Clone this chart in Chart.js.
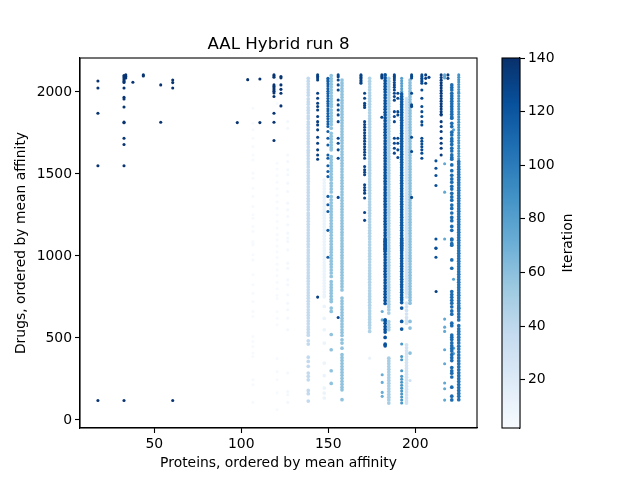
<!DOCTYPE html>
<html><head><meta charset="utf-8">
<style>html,body{margin:0;padding:0;background:#fff}canvas{position:absolute;left:0;top:0}</style>
<script src="https://cdn.jsdelivr.net/npm/chart.js@4"></script></head><body>
<canvas id="main" width="640" height="480"></canvas>
<canvas id="bar" width="640" height="480"></canvas>
<script>
const xTicks=[50,100,150,200];
const yTicks=[0,500,1000,1500,2000];
const barTicks=[20,40,60,80,100,120,140];
const blues=['#f7fbff','#deebf7','#c6dbef','#9ecae1','#6baed6','#4292c6','#2171b5','#08519c','#08306b'];

const y017=[2067,2024,1870,1550,119];
const y032=[2100,2092,2085,2075,2066,2058,2024,1967,1957,1908,1816,1812,1718,1680,1550,119];
const y033=[2104,2094,2085];
const y037=[2059];
const y043=[2104,2098];
const y053=[2043,1815];
const y060=[2073,2057,2024,119];
const y097=[1813];
const y103=[2075];
const y110=[2079,1813];
const y118=[2104,2098,2090,2043,2034,2024,2014,2004,1994,1972,1870,1815,1704];
const y122=[2094,2086,2043,2016,1992,1915];
const y106=[1900,1809,1769,1718,1667,1616,1586,1505,1474,1413,1363,1302,1251,1230,1180,1150,1088,1068,1078,1067,1007,976,885,824,773,722,662,631,509,479,448,408,387,245,215,107];
const y120=[2073,2040,2010,1930,1565,1530,1490,1450,1410,1370,1330,1290,1250,1210,1170,1130,1098,1060,1025,990,950,915,880,840,800,760,740,660,620,580,375,295,245,165,62];
const y126=[1819,1779,1616,1576,1525,1495,1444,1393,1322,1281,1241,1190,1139,1109,1088,1037,956,925,854,824,763,712,672,621,550,286,174,154,107];
const y147=[1464,1446,1428,1410,1392,1374,1356,1338,1320,1302,1284,1266,1248,1230,1212,1194,1176,1158,1140,1122,1104,1086,1068,1050,1032,1014,996,978,960,942,924,906,888,870,852,834,816,798,780,762,751,692,620,550,469,347,270,195,164,134];
const y138=[2083,2066,2048,2031,2014,1996,1980,1958,1941,1925,1905,1889,1872,1853,1838,1818,1803,1785,1769,1750,1733,1716,1698,1682,1664,1645,1630,1612,1594,1576,1560,1543,1524,1509,1490,1473,1455,1438,1420,1403,1387,1368,1350,1334,1316,1298,1281,1262,1247,1229,1211,1193,1176,1159,1141,1124,1107,1090,1072,1055,1036,1020,1002,985,968,950,933,916,898,880,864,846,829,811,794,776,759,742,724,707,690,672,655,638,621,603,586,568,552,534,517,483,463,383,357,327,286,266,245,180,160,115];
const y151=[2100,2082,2065,2047,2030,2012,1995,1977,1960,1942,1925,1911,1890,1872,1855,1837,1820,1802,1779,1748,1730,1712,1694,1676,1660,1647,1606,1588,1570,1552,1534,1516,1498,1480,1464,1444,1426,1408,1390,1363,1342,1324,1306,1288,1270,1252,1234,1216,1198,1180,1162,1144,1126,1108,1090,1072,1054,1040,1022,1004,986,968,950,932,914,896,875,844,826,808,790,772,754,736,722,682,662,521,428,300,223];
const y157=[2073,2055,2038,2020,2003,1985,1968,1950,1933,1915,1898,1880,1863,1845,1828,1810,1793,1775,1758,1740,1723,1705,1688,1670,1653,1635,1618,1600,1583,1565,1548,1530,1513,1495,1478,1460,1443,1425,1408,1390,1373,1355,1338,1320,1303,1285,1268,1250,1233,1215,1198,1180,1163,1145,1128,1110,1093,1075,1058,1040,1023,1005,988,970,953,935,918,900,883,865,848,830,813,793,743,725,708,690,673,655,638,620,603,585,568,550,533,515,489,469,438,398,380,362,344,326,308,290,272,254,236,218,200,184,124];
const y173=[2083,2065,2048,2030,2013,1995,1978,1960,1943,1925,1908,1890,1873,1855,1838,1820,1803,1785,1768,1750,1733,1715,1698,1680,1663,1645,1628,1610,1593,1575,1558,1540,1523,1505,1488,1470,1453,1435,1418,1400,1383,1365,1348,1330,1313,1295,1278,1260,1243,1225,1208,1190,1173,1155,1138,1120,1103,1085,1068,1050,1033,1015,998,980,963,945,928,910,893,875,858,840,823,805,788,770,753,735,718,700,683,665,648,630,613,595,578,560,540];
const y173b=[377];
const y184=[2083,2066,2049,2032,2015,1998,1981,1964,1947,1930,1913,1896,1879,1862,1845,1828,1811,1794,1777,1760,1743,1726,1709,1692,1675,1658,1641,1624,1607,1590,1573,1556,1539,1522,1505,1488,1471,1454,1437,1420,1403,1386,1369,1352,1335,1318,1301,1284,1267,1250,1233,1216,1199,1182,1165,1148,1131,1114,1097,1080,1063,1046,1029,1012,995,978,961,944,927,910,893,876,859,842,825,808,791,774,757,740,723,706,689,672,652,600,582,565,550,377,360,343,326,309,292,275,258,241,224,207,190,173,156,139,122,103];
const y195=[1960,1942,1924,1906,1888,1870,1852,1834,1816,1798,1780,1762,1744,1726,1708,1690,1672,1654,1636,1618,1600,1582,1564,1546,1528,1510,1492,1474,1456,1438,1420,1402,1384,1366,1348,1330,1312,1294,1276,1258,1240,1222,1204,1186,1168,1150,1132,1114,1096,1078,1060,1042,1024,1006,988,970,952,934,916,898,880,862,844,826,808,790,772,750,712,690,668,646,624,606,590,458,440,422,404,386,368,350,332,314,296,278,260,242,224,206,188,170,152,134,116,103];
const y197=[2073,2056,2039,2022,2005,1988,1971,1954,1937,1920,1903,1886,1869,1852,1835,1818,1801,1784,1767,1750,1733,1716,1699,1682,1665,1648,1631,1614,1597,1580,1563,1546,1529,1512,1495,1478,1461,1444,1427,1410,1393,1376,1359,1342,1325,1308,1291,1274,1257,1240,1223,1206,1189,1172,1155,1138,1121,1104,1087,1070,1053,1036,1019,1002,985,968,951,934,917,900,883,866,849,832,815,798,781,764,747,730,712,601,560,408];
const y197b=[241];
const y143=[2104,2094,2085,2073,1992,1962,1931,1911,1890,1850,1819,1799,1769,1724,1687,1647,1616,1590,749];
const y149=[2083,2073,2063,2050,2036,2020,2004,1990,1975,1960,1944,1930,1915,1898,1884,1868,1852,1836,1820,1805,1789,1759,1718,1677,1616,1596,1550,1515,1484,1363,1312,1271,1156,992];
const y155=[2104,2092,2073,2043,2012,1951,1921,1890,1860,1819,1718,1687,1647,1596,1357,625];
const y168=[2104,2098,2088,2080,2070,2061,2053];
const y170=[1992,1962,1931,1918,1905,1819,1802,1785,1768,1751,1734,1717,1700,1683,1666,1649,1632,1615,1596,1545,1525,1510,1495,1434,1417,1400,1383,1353,1265,1217];
const y180=[2104,2094,2085,1846];
const y182=[2104,2086,2069,2051,2034,2016,1999,1981,1964,1946,1929,1911,1894,1876,1859,1841,1824,1806,1789,1771,1754,1736,1719,1701,1684,1666,1649,1631,1614,1596,1579,1561,1544,1526,1509,1491,1474,1456,1439,1421,1404,1386,1369,1351,1334,1316,1299,1281,1264,1246,1229,1211,1194,1176,1159,1141,1124,1106,1089,1071,1054,1040,1098,1081,1063,1046,1028,1011,993,976,958,941,923,906,888,871,853,836,818,801,783,766,748,729,710,611,605,589,570,552,536,503,462,452];
const y181=[661,610,276,229,168,144];
const y188=[2104,2094,2085,2073,2058,2043,2028,2012,1992,1972,1950,1880,1850,1819,1718,1687,1657,1627];
const y190=[1992,1962,1880,1860,1718,1687,1647,1600];
const y192top=[2083,2068,2052,2036,2020,2004];
const y192=[1988,1972,1956,1940,1924,1908,1892,1876,1860,1844,1828,1812,1796,1780,1764,1748,1732,1716,1700,1684,1668,1652,1636,1620,1604,1588,1572,1556,1540,1524,1508,1492,1476,1460,1444,1428,1412,1396,1380,1364,1348,1332,1316,1300,1284,1268,1252,1236,1220,1204,1188,1172,1156,1140,1124,1108,1092,1076,1060,1044,1098,1082,1066,1050,1034,1018,1002,986,970,954,938,922,906,890,874,858,842,826,810,794,778,762,746,733,716,682,601,554];
const y192b=[463,387,367,300,266,248,230,212,194,176,158,140,122,103];
const y197c=[2104,2094,2085,1992,1921,1911,1724,1637,1357];
const y203=[2104,2094,2084,2073,2063,2053,2012,1962,1911,1880,1850,1819,1799,1718,1700,1683,1666,1648,1627,1596];
const y206=[2104,2083,2053];
const y207=[2089];
const y211=[1580,1535,1491,1430,1103,1048,1047,992];
const y212=[783];
const y214=[2104,2088,2072,2056,2040,2024,2008,1992,1976,1960,1944,1928,1912,1896,1880,1864,1860,1819,1789,1759,1718,1687,1657,1616];
const y216=[2104,2094,2085,1562,1389,1103,615,566,540,428,343,225,190,121];
const y218=[2104,2083];
const y221=[2043,2027,2012,1992,1976,1960,1944,1928,1912,1896,1880,1864,1848,1840,1809,1789,1755,1738,1715,1700,1680,1657,1640,1616,1600,1590,1555,1520,1492,1470,1450,1425,1408,1382,1360,1340,1310,1290,1262,1235,1215,1180,1156,1103,1075,1098,1066,976,925,783,765,748,730,712,690,665,645,590,575,518,505,490,470,452,436,420,398,380,362,320,300,285,262,200,145,122];
const y222=[1769,858,438,405];
const y225a=[2104,2090,2075,2060,2045,2030,2015,2000,1992,1976,1960,1944,1928,1912,1896,1880,1864,1848,1832,1816,1800,1784,1768,1752,1736,1720,1704,1688,1672,1656,1640,1624,1608,1592];
const y225=[1576,1560,1544,1528,1512,1496,1480,1464,1448,1432,1416,1400,1384,1368,1352,1336,1320,1304,1288,1272,1256,1240,1224,1208,1192,1176,1160,1144,1128,1112,1096,1080,1064,1048,1032,1016,1000,984,968,952,936,920,904,888,872,856,840,824,808,792,776,760,744,728,712,696,680,682,664,646,628,610,575,556,540,523,505,488,470,450,432,414,396,378,360,342,324,306,288,270,252,234,216,198,180,162,144,124];

const columns=[
[106.7,3,y106],[120.6,3,y120],[126.7,5,y126],[147.7,10,y147],[173.8,12,y173b],[197,30,y197b],[195,28,y195],
[138.5,38,y138],[173.8,46,y173],[184.8,50,y184],[151.7,58,y151],[157.9,58,y157],[197,60,y197],
[181,72,y181],[216.9,75,y216],[222,78,y222],[192.2,80,y192top],[192.2,85,y192b],[225,88,y225a],[225,105,y225],[221,108,y221],
[149.8,116,y149],[192.2,118,y192],[182.7,122,y182],[211.9,124,y211],[203.8,126,y203],[188,128,y188],[190,128,y190],[155.7,128,y155],[197.9,128,y197c],[170.9,130,y170],[168.8,130,y168],[143.9,132,y143],[180.8,132,y180],[206,132,y206],[207.9,132,y207],[212,132,y212],[214.9,134,y214],[218.8,134,y218],
[17.6,138,y017],[32.6,138,y032],[33.6,138,y033],[37.7,138,y037],[43.7,138,y043],[53.7,138,y053],[60.6,138,y060],[97.7,138,y097],[103.7,138,y103],[110.7,138,y110],[118.8,138,y118],[122.8,138,y122]
];

function hexRgb(h){return [1,3,5].map(i=>parseInt(h.substr(i,2),16));}
function blueAt(t){
  const p=Math.min(0.9999,Math.max(0,t))*(blues.length-1),i=Math.floor(p),f=p-i;
  const a=hexRgb(blues[i]),b=hexRgb(blues[i+1]);
  return 'rgb('+a.map((v,k)=>Math.round(v+(b[k]-v)*f)).join(',')+')';
}
const iterMin=2,iterMax=140;
const iterColor=n=>blueAt((n-iterMin)/(iterMax-iterMin));
const FONT='"DejaVu Sans"';
Chart.defaults.font.family=FONT;
Chart.defaults.color='#000';

const frame={id:'frame',afterDraw(c){
  const a=c.chartArea,x=c.ctx;x.save();x.strokeStyle='#000';x.lineWidth=1.1;
  x.strokeRect(a.left,a.top,a.right-a.left,a.bottom-a.top);x.restore();}};

new Chart(document.getElementById('main'),{
  type:'scatter',
  data:{datasets:columns.map(([cx,it,ys],k)=>({
    label:'c'+cx,order:1000-k,
    data:ys.map(v=>({x:cx,y:v})),
    backgroundColor:iterColor(it),borderWidth:0,pointRadius:ys.length<40?1.55:1.85,pointHoverRadius:1.85
  }))},
  options:{responsive:false,animation:false,events:[],
    layout:{padding:{left:0,right:163,top:0,bottom:0}},
    plugins:{legend:{display:false},tooltip:{enabled:false},
      title:{display:true,text:'AAL Hybrid run 8',fullSize:false,color:'#000',font:{size:16.67,weight:'normal'},padding:{top:35,bottom:3}}},
    scales:{
      x:{type:'linear',min:7.3,max:235.5,
        afterBuildTicks:s=>{s.ticks=xTicks.map(v=>({value:v}));},
        afterFit:s=>{s.height=52;},
        ticks:{font:{size:13.9},maxRotation:0,padding:3,callback:v=>String(v)},
        grid:{drawOnChartArea:false,drawTicks:true,tickLength:5,tickColor:'#000',tickWidth:1.1},
        border:{display:true,color:'#000',width:1.1},
        title:{display:true,text:'Proteins, ordered by mean affinity',font:{size:13.9},color:'#000',padding:{top:0,bottom:8}}},
      y:{type:'linear',min:-49,max:2207,
        afterBuildTicks:s=>{s.ticks=yTicks.map(v=>({value:v}));},
        afterFit:s=>{s.width=80;},
        ticks:{font:{size:13.9},padding:3,callback:v=>String(v)},
        grid:{drawOnChartArea:false,drawTicks:true,tickLength:5,tickColor:'#000',tickWidth:1.1},
        border:{display:true,color:'#000',width:1.1},
        title:{display:true,text:'Drugs, ordered by mean affinity',font:{size:13.9},color:'#000',padding:{top:13,bottom:0}}}
    }},
  plugins:[frame]
});

const iterLabel={id:'iterLabel',afterDraw(c){
  const x=c.ctx;x.save();x.fillStyle='#000';x.font='13.9px '+FONT;x.textAlign='center';x.textBaseline='middle';
  x.translate(568,243);x.rotate(-Math.PI/2);x.fillText('Iteration',0,0);x.restore();}};

new Chart(document.getElementById('bar'),{
  type:'bar',
  data:{labels:['Iteration'],datasets:[{data:[[iterMin,iterMax]],barPercentage:1,categoryPercentage:1,borderWidth:0,
    backgroundColor(ctx){
      const a=ctx.chart.chartArea;if(!a)return blues[4];
      const g=ctx.chart.ctx.createLinearGradient(0,a.bottom,0,a.top);
      blues.forEach((h,i)=>g.addColorStop(i/(blues.length-1),h));
      return g;
    }}]},
  options:{responsive:false,animation:false,events:[],
    layout:{padding:{left:502,right:0,top:58,bottom:52}},
    plugins:{legend:{display:false},tooltip:{enabled:false},title:{display:false}},
    scales:{
      x:{display:false},
      y:{position:'right',min:iterMin,max:iterMax,
        afterBuildTicks:s=>{s.ticks=barTicks.map(v=>({value:v}));},
        afterFit:s=>{s.width=120;},
        ticks:{font:{size:13.9},padding:3,callback:v=>String(v)},
        grid:{drawOnChartArea:false,drawTicks:true,tickLength:5,tickColor:'#000',tickWidth:1.1},
        border:{display:true,color:'#000',width:1.1}}
    }},
  plugins:[frame,iterLabel]
});
</script></body></html>
